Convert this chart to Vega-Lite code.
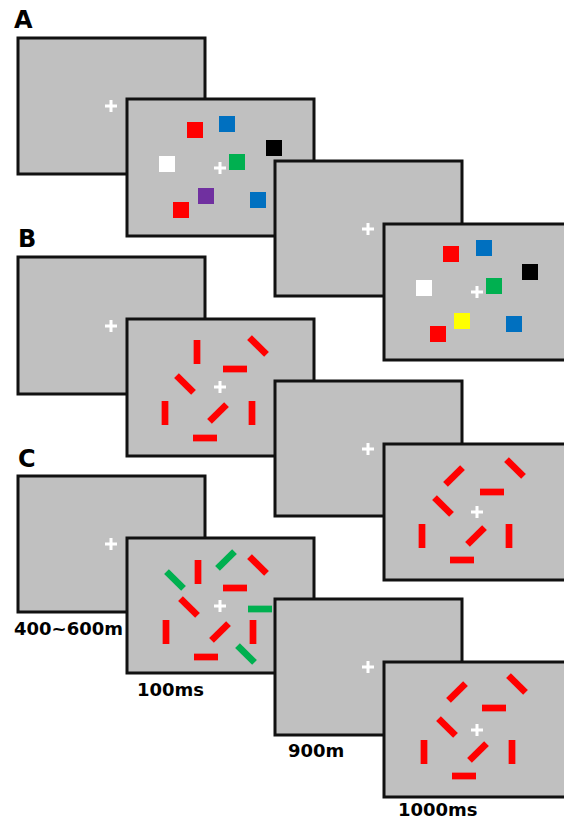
{
  "$schema": "https://vega.github.io/schema/vega-lite/v6.json",
  "width": 564,
  "height": 822,
  "padding": 0,
  "autosize": "none",
  "background": "#ffffff",
  "config": {"view": {"stroke": null}},
  "datasets": {
    "screens": [
      {"panel": "A", "col": 1, "x0": 18, "x1": 205, "y0": 38, "y1": 174},
      {"panel": "B", "col": 1, "x0": 18, "x1": 205, "y0": 257, "y1": 394},
      {"panel": "C", "col": 1, "x0": 18, "x1": 205, "y0": 476, "y1": 612},
      {"panel": "A", "col": 2, "x0": 127, "x1": 314, "y0": 99, "y1": 236},
      {"panel": "B", "col": 2, "x0": 127, "x1": 314, "y0": 319, "y1": 456},
      {"panel": "C", "col": 2, "x0": 127, "x1": 314, "y0": 538, "y1": 673},
      {"panel": "A", "col": 3, "x0": 275, "x1": 462, "y0": 161, "y1": 296},
      {"panel": "B", "col": 3, "x0": 275, "x1": 462, "y0": 381, "y1": 516},
      {"panel": "C", "col": 3, "x0": 275, "x1": 462, "y0": 599, "y1": 735},
      {"panel": "A", "col": 4, "x0": 384, "x1": 571, "y0": 224, "y1": 360},
      {"panel": "B", "col": 4, "x0": 384, "x1": 571, "y0": 444, "y1": 580},
      {"panel": "C", "col": 4, "x0": 384, "x1": 571, "y0": 662, "y1": 797}
    ],
    "crosses": [
      {"col": 1, "x": 111, "y": 106}, {"col": 1, "x": 111, "y": 326}, {"col": 1, "x": 111, "y": 544},
      {"col": 2, "x": 220, "y": 168}, {"col": 2, "x": 220, "y": 387}, {"col": 2, "x": 220, "y": 606},
      {"col": 3, "x": 368, "y": 229}, {"col": 3, "x": 368, "y": 449}, {"col": 3, "x": 368, "y": 667},
      {"col": 4, "x": 477, "y": 292}, {"col": 4, "x": 477, "y": 512}, {"col": 4, "x": 477, "y": 730}
    ],
    "squares": [
      {"col": 2, "x": 195, "y": 130, "color": "red"},
      {"col": 2, "x": 227, "y": 124, "color": "blue"},
      {"col": 2, "x": 274, "y": 148, "color": "black"},
      {"col": 2, "x": 167, "y": 164, "color": "white"},
      {"col": 2, "x": 237, "y": 162, "color": "green"},
      {"col": 2, "x": 206, "y": 196, "color": "purple"},
      {"col": 2, "x": 181, "y": 210, "color": "red"},
      {"col": 2, "x": 258, "y": 200, "color": "blue"},
      {"col": 4, "x": 451, "y": 254, "color": "red"},
      {"col": 4, "x": 484, "y": 248, "color": "blue"},
      {"col": 4, "x": 530, "y": 272, "color": "black"},
      {"col": 4, "x": 424, "y": 288, "color": "white"},
      {"col": 4, "x": 494, "y": 286, "color": "green"},
      {"col": 4, "x": 462, "y": 321, "color": "yellow"},
      {"col": 4, "x": 438, "y": 334, "color": "red"},
      {"col": 4, "x": 514, "y": 324, "color": "blue"}
    ],
    "bars": [
      {"col": 2, "x": 197, "y": 352, "orient": 90, "color": "red"},
      {"col": 2, "x": 258, "y": 346, "orient": 45, "color": "red"},
      {"col": 2, "x": 235, "y": 369, "orient": 0, "color": "red"},
      {"col": 2, "x": 185, "y": 384, "orient": 45, "color": "red"},
      {"col": 2, "x": 165, "y": 413, "orient": 90, "color": "red"},
      {"col": 2, "x": 218, "y": 413, "orient": 135, "color": "red"},
      {"col": 2, "x": 252, "y": 413, "orient": 90, "color": "red"},
      {"col": 2, "x": 205, "y": 438, "orient": 0, "color": "red"},
      {"col": 4, "x": 454, "y": 476, "orient": 135, "color": "red"},
      {"col": 4, "x": 515, "y": 468, "orient": 45, "color": "red"},
      {"col": 4, "x": 492, "y": 492, "orient": 0, "color": "red"},
      {"col": 4, "x": 443, "y": 506, "orient": 45, "color": "red"},
      {"col": 4, "x": 422, "y": 536, "orient": 90, "color": "red"},
      {"col": 4, "x": 476, "y": 536, "orient": 135, "color": "red"},
      {"col": 4, "x": 509, "y": 536, "orient": 90, "color": "red"},
      {"col": 4, "x": 462, "y": 560, "orient": 0, "color": "red"},
      {"col": 2, "x": 226, "y": 560, "orient": 135, "color": "green"},
      {"col": 2, "x": 258, "y": 565, "orient": 45, "color": "red"},
      {"col": 2, "x": 198, "y": 572, "orient": 90, "color": "red"},
      {"col": 2, "x": 175, "y": 580, "orient": 45, "color": "green"},
      {"col": 2, "x": 235, "y": 588, "orient": 0, "color": "red"},
      {"col": 2, "x": 189, "y": 607, "orient": 45, "color": "red"},
      {"col": 2, "x": 260, "y": 609, "orient": 0, "color": "green"},
      {"col": 2, "x": 166, "y": 632, "orient": 90, "color": "red"},
      {"col": 2, "x": 220, "y": 632, "orient": 135, "color": "red"},
      {"col": 2, "x": 253, "y": 632, "orient": 90, "color": "red"},
      {"col": 2, "x": 206, "y": 657, "orient": 0, "color": "red"},
      {"col": 2, "x": 246, "y": 654, "orient": 45, "color": "green"},
      {"col": 4, "x": 457, "y": 692, "orient": 135, "color": "red"},
      {"col": 4, "x": 517, "y": 684, "orient": 45, "color": "red"},
      {"col": 4, "x": 494, "y": 708, "orient": 0, "color": "red"},
      {"col": 4, "x": 447, "y": 727, "orient": 45, "color": "red"},
      {"col": 4, "x": 424, "y": 752, "orient": 90, "color": "red"},
      {"col": 4, "x": 478, "y": 752, "orient": 135, "color": "red"},
      {"col": 4, "x": 512, "y": 752, "orient": 90, "color": "red"},
      {"col": 4, "x": 464, "y": 776, "orient": 0, "color": "red"}
    ],
    "labels": [
      {"text": "A", "x": 14, "y": 28, "kind": "panel"},
      {"text": "B", "x": 18, "y": 247, "kind": "panel"},
      {"text": "C", "x": 18, "y": 467, "kind": "panel"},
      {"text": "400~600m", "x": 14, "y": 635, "kind": "time"},
      {"text": "100ms", "x": 137, "y": 696, "kind": "time"},
      {"text": "900m", "x": 288, "y": 757, "kind": "time"},
      {"text": "1000ms", "x": 398, "y": 816, "kind": "time"}
    ]
  },
  "layer": [
    {
      "data": {"name": "screens"},
      "transform": [{"filter": "datum.col == 1"}],
      "mark": {"type": "rect", "fill": "#c0c0c0", "stroke": "#111111", "strokeWidth": 3, "clip": true},
      "encoding": {
        "x": {"field": "x0", "type": "quantitative", "scale": {"domain": [0, 564], "nice": false, "zero": false}, "axis": null},
        "x2": {"field": "x1"},
        "y": {"field": "y0", "type": "quantitative", "scale": {"domain": [0, 822], "nice": false, "zero": false, "reverse": true}, "axis": null},
        "y2": {"field": "y1"}
      }
    },
    {
      "data": {"name": "crosses"},
      "transform": [{"filter": "datum.col == 1"}],
      "mark": {"type": "point", "shape": "M-1,0H1M0,-1V1", "filled": false, "stroke": "#ffffff", "strokeWidth": 3, "size": 144, "opacity": 1},
      "encoding": {
        "x": {"field": "x", "type": "quantitative", "axis": null},
        "y": {"field": "y", "type": "quantitative", "axis": null}
      }
    },
    {
      "data": {"name": "screens"},
      "transform": [{"filter": "datum.col == 2"}],
      "mark": {"type": "rect", "fill": "#c0c0c0", "stroke": "#111111", "strokeWidth": 3, "clip": true},
      "encoding": {
        "x": {"field": "x0", "type": "quantitative", "axis": null},
        "x2": {"field": "x1"},
        "y": {"field": "y0", "type": "quantitative", "axis": null},
        "y2": {"field": "y1"}
      }
    },
    {
      "data": {"name": "squares"},
      "transform": [{"filter": "datum.col == 2"}],
      "mark": {"type": "point", "shape": "square", "filled": true, "size": 256, "opacity": 1},
      "encoding": {
        "x": {"field": "x", "type": "quantitative", "axis": null},
        "y": {"field": "y", "type": "quantitative", "axis": null},
        "fill": {"field": "color", "type": "nominal", "legend": null, "scale": {"domain": ["red", "blue", "black", "white", "green", "purple", "yellow"], "range": ["#ff0000", "#0070c0", "#000000", "#ffffff", "#00b050", "#7030a0", "#ffff00"]}}
      }
    },
    {
      "data": {"name": "bars"},
      "transform": [{"filter": "datum.col == 2"}],
      "mark": {"type": "point", "shape": "M-1,-0.28H1V0.28H-1Z", "filled": true, "size": 576, "opacity": 1},
      "encoding": {
        "x": {"field": "x", "type": "quantitative", "axis": null},
        "y": {"field": "y", "type": "quantitative", "axis": null},
        "angle": {"field": "orient", "type": "quantitative", "scale": null},
        "fill": {"field": "color", "type": "nominal", "legend": null}
      }
    },
    {
      "data": {"name": "crosses"},
      "transform": [{"filter": "datum.col == 2"}],
      "mark": {"type": "point", "shape": "M-1,0H1M0,-1V1", "filled": false, "stroke": "#ffffff", "strokeWidth": 3, "size": 144, "opacity": 1},
      "encoding": {
        "x": {"field": "x", "type": "quantitative", "axis": null},
        "y": {"field": "y", "type": "quantitative", "axis": null}
      }
    },
    {
      "data": {"name": "screens"},
      "transform": [{"filter": "datum.col == 3"}],
      "mark": {"type": "rect", "fill": "#c0c0c0", "stroke": "#111111", "strokeWidth": 3, "clip": true},
      "encoding": {
        "x": {"field": "x0", "type": "quantitative", "axis": null},
        "x2": {"field": "x1"},
        "y": {"field": "y0", "type": "quantitative", "axis": null},
        "y2": {"field": "y1"}
      }
    },
    {
      "data": {"name": "crosses"},
      "transform": [{"filter": "datum.col == 3"}],
      "mark": {"type": "point", "shape": "M-1,0H1M0,-1V1", "filled": false, "stroke": "#ffffff", "strokeWidth": 3, "size": 144, "opacity": 1},
      "encoding": {
        "x": {"field": "x", "type": "quantitative", "axis": null},
        "y": {"field": "y", "type": "quantitative", "axis": null}
      }
    },
    {
      "data": {"name": "screens"},
      "transform": [{"filter": "datum.col == 4"}],
      "mark": {"type": "rect", "fill": "#c0c0c0", "stroke": "#111111", "strokeWidth": 3, "clip": true},
      "encoding": {
        "x": {"field": "x0", "type": "quantitative", "axis": null},
        "x2": {"field": "x1"},
        "y": {"field": "y0", "type": "quantitative", "axis": null},
        "y2": {"field": "y1"}
      }
    },
    {
      "data": {"name": "squares"},
      "transform": [{"filter": "datum.col == 4"}],
      "mark": {"type": "point", "shape": "square", "filled": true, "size": 256, "opacity": 1},
      "encoding": {
        "x": {"field": "x", "type": "quantitative", "axis": null},
        "y": {"field": "y", "type": "quantitative", "axis": null},
        "fill": {"field": "color", "type": "nominal", "legend": null}
      }
    },
    {
      "data": {"name": "bars"},
      "transform": [{"filter": "datum.col == 4"}],
      "mark": {"type": "point", "shape": "M-1,-0.28H1V0.28H-1Z", "filled": true, "size": 576, "opacity": 1},
      "encoding": {
        "x": {"field": "x", "type": "quantitative", "axis": null},
        "y": {"field": "y", "type": "quantitative", "axis": null},
        "angle": {"field": "orient", "type": "quantitative", "scale": null},
        "fill": {"field": "color", "type": "nominal", "legend": null}
      }
    },
    {
      "data": {"name": "crosses"},
      "transform": [{"filter": "datum.col == 4"}],
      "mark": {"type": "point", "shape": "M-1,0H1M0,-1V1", "filled": false, "stroke": "#ffffff", "strokeWidth": 3, "size": 144, "opacity": 1},
      "encoding": {
        "x": {"field": "x", "type": "quantitative", "axis": null},
        "y": {"field": "y", "type": "quantitative", "axis": null}
      }
    },
    {
      "data": {"name": "labels"},
      "transform": [{"filter": "datum.kind == 'panel'"}],
      "mark": {"type": "text", "font": "DejaVu Sans", "fontWeight": "bold", "fontSize": 24, "align": "left", "baseline": "alphabetic", "color": "#000000"},
      "encoding": {
        "x": {"field": "x", "type": "quantitative", "axis": null},
        "y": {"field": "y", "type": "quantitative", "axis": null},
        "text": {"field": "text"}
      }
    },
    {
      "data": {"name": "labels"},
      "transform": [{"filter": "datum.kind == 'time'"}],
      "mark": {"type": "text", "font": "DejaVu Sans", "fontWeight": "bold", "fontSize": 18, "align": "left", "baseline": "alphabetic", "color": "#000000"},
      "encoding": {
        "x": {"field": "x", "type": "quantitative", "axis": null},
        "y": {"field": "y", "type": "quantitative", "axis": null},
        "text": {"field": "text"}
      }
    }
  ]
}
